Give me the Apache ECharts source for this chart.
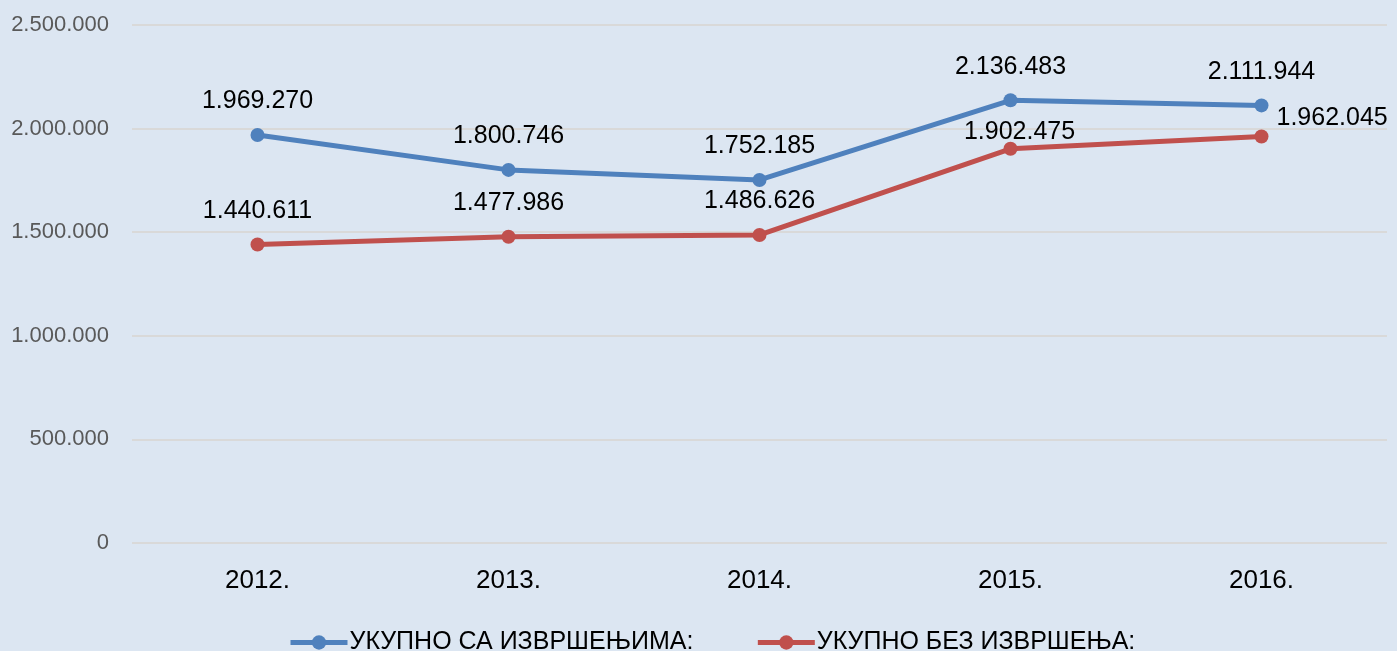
<!DOCTYPE html>
<html>
<head>
<meta charset="utf-8">
<script src="https://cdn.jsdelivr.net/npm/echarts@6/dist/echarts.min.js"></script>
<style>
html,body{margin:0;padding:0;background:#dce6f2;}
#chart{width:1397px;height:651px;}
</style>
</head>
<body>
<div id="chart"></div>
<script>
const categories = ['2012.', '2013.', '2014.', '2015.', '2016.'];
const seriesNames = ['УКУПНО СА ИЗВРШЕЊИМА:', 'УКУПНО БЕЗ ИЗВРШЕЊА:'];
const withExecutions = [1969270, 1800746, 1752185, 2136483, 2111944];
const withoutExecutions = [1440611, 1477986, 1486626, 1902475, 1962045];
const yTicks = [0, 500000, 1000000, 1500000, 2000000, 2500000];

function fmt(v) {
  return String(v).replace(/\B(?=(\d{3})+(?!\d))/g, '.');
}

const FONT = '"Liberation Sans", Arial, sans-serif';
const labelBase = {
  show: true,
  position: 'top',
  distance: 14,
  color: '#000',
  fontSize: 25,
  fontFamily: FONT,
  formatter: p => fmt(p.value)
};

const redData = withoutExecutions.map((v, i) => {
  if (i === 3) return { value: v, label: { offset: [9, 17] } };
  if (i === 4) return { value: v, label: { position: 'right', distance: 8, offset: [0, -18] } };
  return v;
});

const chart = echarts.init(document.getElementById('chart'));
chart.setOption({
  backgroundColor: '#dce6f2',
  animation: false,
  grid: { left: 132, right: 10, top: 25, bottom: 108, containLabel: false },
  legend: {
    left: 283,
    top: 625,
    itemWidth: 57,
    itemHeight: 18,
    itemGap: 62,
    lineStyle: { width: 5 },
    textStyle: { fontSize: 25, color: '#000', fontFamily: FONT, padding: [0, 0, 0, -3] },
    data: seriesNames
  },
  xAxis: {
    type: 'category',
    data: categories,
    boundaryGap: true,
    axisLine: { show: false },
    axisTick: { show: false },
    axisLabel: { color: '#000', fontSize: 26, fontFamily: FONT, margin: 25 }
  },
  yAxis: {
    type: 'value',
    min: yTicks[0],
    max: yTicks[yTicks.length - 1],
    interval: yTicks[1] - yTicks[0],
    axisLine: { show: false },
    axisTick: { show: false },
    splitLine: { lineStyle: { color: '#d9d9d9', width: 2 } },
    axisLabel: { color: '#595959', fontSize: 22, fontFamily: FONT, margin: 23, formatter: v => fmt(v) }
  },
  series: [
    {
      name: seriesNames[0],
      type: 'line',
      data: withExecutions,
      symbol: 'circle',
      symbolSize: 14,
      itemStyle: { color: '#4f81bd' },
      lineStyle: { color: '#4f81bd', width: 5 },
      label: labelBase,
      z: 3
    },
    {
      name: seriesNames[1],
      type: 'line',
      data: redData,
      symbol: 'circle',
      symbolSize: 14,
      itemStyle: { color: '#c0504d' },
      lineStyle: { color: '#c0504d', width: 5 },
      label: labelBase,
      z: 2
    }
  ]
});
</script>
</body>
</html>
